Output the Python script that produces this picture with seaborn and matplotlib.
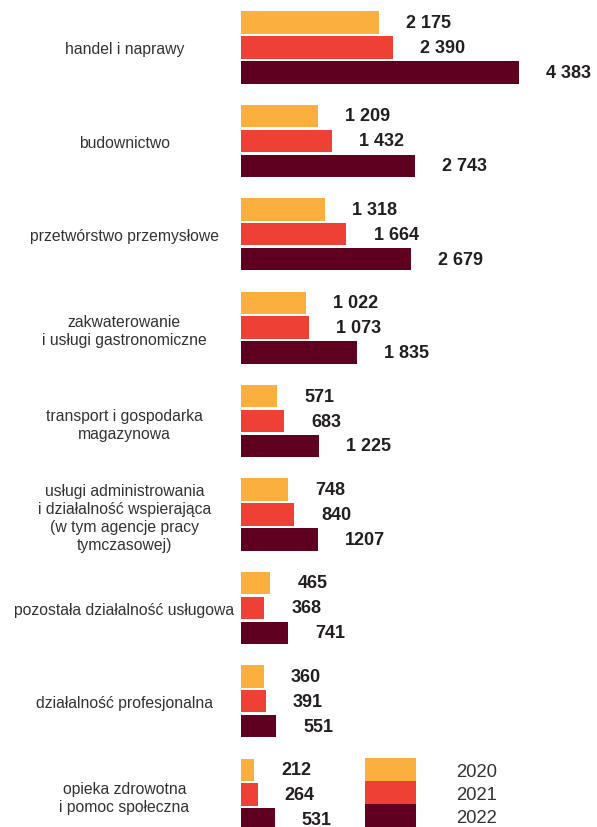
import numpy as np
import pandas as pd
import seaborn as sns
import matplotlib.pyplot as plt

# Data
categories = [
    'handel i naprawy',
    'budownictwo',
    'przetwórstwo przemysłowe',
    'zakwaterowanie\ni usługi gastronomiczne',
    'transport i gospodarka\nmagazynowa',
    'usługi administrowania\ni działalność wspierająca\n(w tym agencje pracy\ntymczasowej)',
    'pozostała działalność usługowa',
    'działalność profesjonalna',
    'opieka zdrowotna\ni pomoc społeczna',
]
years = ['2020', '2021', '2022']
values_2020 = [2175, 1209, 1318, 1022, 571, 748, 465, 360, 212]
values_2021 = [2390, 1432, 1664, 1073, 683, 840, 368, 391, 264]
values_2022 = [4383, 2743, 2679, 1835, 1225, 1207, 741, 551, 531]
colors = ['#FBAF3F', '#EF4036', '#5F0020']

# labels as printed in the source (one value has no thousands space)
no_space = {('2022', 1207)}

def fmt(year, v):
    if (year, v) in no_space:
        return str(v)
    return f'{v:,}'.replace(',', ' ')

df = pd.DataFrame({
    'category': categories * 3,
    'year': [y for y in years for _ in categories],
    'value': values_2020 + values_2021 + values_2022,
})

sns.set_style('white')
plt.rcParams['font.family'] = ['Liberation Sans', 'DejaVu Sans']

fig = plt.figure(figsize=(5.97, 8.28), dpi=100)
ax = fig.add_axes([241 / 597, 0, 356 / 597, 1])

sns.barplot(data=df, y='category', x='value', hue='year', hue_order=years,
            palette=colors, orient='h', width=0.8, gap=0.1, ax=ax,
            saturation=1, linewidth=0, legend=True)

for container, year in zip(ax.containers, years):
    vals = [int(round(b.get_width())) for b in container]
    ax.bar_label(container, labels=[fmt(year, v) for v in vals],
                 padding=19.5, fontsize=13, fontweight='bold', color='#231f20')

ax.set_xlim(0, 356 / 0.0634)
ax.set_ylim(8.346, -0.519)
ax.set_xticks([])
ax.set_xlabel('')
ax.set_ylabel('')
ax.tick_params(axis='y', length=0, pad=84)
for lbl in ax.get_yticklabels():
    lbl.set_horizontalalignment('center')
    lbl.set_fontsize(11.3)
    lbl.set_color('#333333')
    lbl.set_linespacing(1.25)
sns.despine(ax=ax, left=True, bottom=True)

# legend: tall colour blocks stacked with no gap
handles, labels = ax.get_legend_handles_labels()
ax.legend(handles, labels, loc='lower left',
          bbox_to_anchor=(365 / 597, 0), bbox_transform=fig.transFigure,
          frameon=False, fontsize=13.3, handlelength=2.76, handleheight=1.538,
          labelspacing=0, handletextpad=2.16,
          borderpad=0, borderaxespad=0, labelcolor='#333333')

fig.savefig('out.png', dpi=100)
